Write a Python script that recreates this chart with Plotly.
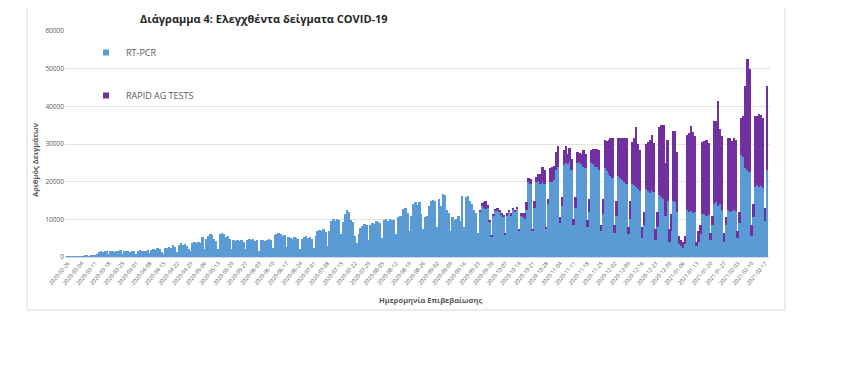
import pandas as pd
import plotly.graph_objects as go

# ---- data (daily samples) ----
start_date = "2020-02-26"
rt_pcr = [
    30, 40, 60, 80, 90, 100, 120,
    150, 250, 600, 300, 250, 300, 350,
    400, 900, 1400, 1500, 1300, 1700, 1600,
    900, 1500, 1600, 1400, 1700, 1500, 1800,
    800, 1600, 1500, 1700, 1400, 1600, 1500,
    900, 1700, 1800, 1600, 1500, 1700, 1900,
    1000, 1900, 2200, 1800, 2400, 2100, 1300,
    700, 2300, 2500, 2700, 2400, 3100, 2600,
    1200, 3100, 3600, 3300, 3400, 3000, 2200,
    1500, 3700, 3900, 3600, 4000, 3800, 5200,
    2000, 4800, 5500, 6100, 5800, 4900, 4200,
    2200, 6000, 6400, 6200, 5300, 5600, 4800,
    2000, 4500, 4300, 4600, 4200, 4400, 3900,
    2100, 4600, 4800, 4500, 4700, 4300, 4600,
    1700, 4500, 4600, 4300, 4500, 4700, 4400,
    2500, 5800, 6100, 6300, 6000, 5700, 5900,
    2600, 5200, 5000, 4800, 5300, 5100, 4700,
    2200, 4900, 5200, 5600, 5000, 5300, 4800,
    2400, 5500, 6800, 7200, 6900, 7400, 6600,
    3000, 7000, 9600, 10100, 9500, 10200, 9800,
    6000, 9200, 11500, 12500, 12000, 9800, 9200,
    5500, 3800, 6200, 7600, 8200, 8800, 8400,
    4500, 8600, 9000, 8700, 9600, 9200, 8900,
    5000, 9800, 10200, 9600, 10000, 9700, 9900,
    6000, 10500, 11000, 10800, 12700, 13000, 11800,
    7000, 11000, 14000, 14500, 13800, 14600, 11500,
    7500, 10500, 11000, 13500, 15000, 15200, 14800,
    8000, 15500, 13600, 16700, 16400, 12500, 11800,
    7000, 10500, 9800, 10200, 11000, 9600, 16300,
    8000, 15800, 16300, 15000, 14200, 12500, 11800,
    6500, 12000, 13500, 13000, 12800, 13200, 9500,
    5500, 11000, 12300, 12700, 12000, 11200, 10800,
    6000, 11000, 12000, 11000, 12600, 12000, 13000,
    7000, 11000, 10500, 10200, 12500, 19800, 19500,
    7000, 13000, 19800, 20200, 19500, 19800, 19300,
    7500, 14000, 20000, 19800, 20500, 23000, 24000,
    9000, 13500, 24500, 25000, 24800, 25500, 23000,
    8500, 13000, 25000, 25200, 24600, 24000, 23500,
    8000, 12000, 25000, 24800, 24000, 23800, 23200,
    7000, 11500, 23500, 22800, 22000, 21500, 21000,
    6500, 11000, 21500, 21000, 20500, 20000, 19500,
    6000, 10000, 19500, 19000, 18500, 18000, 17500,
    5000, 8500, 18000, 17500, 17000, 17800, 17200,
    4500, 8000, 16500, 16000, 15500, 11000, 15000,
    4000, 7000, 15000, 14500, 12000, 3500, 3000,
    2500, 3500, 12500, 12000, 12300, 11800, 12000,
    3000, 4000, 6000, 11500, 11400, 11000, 11200,
    4500, 8500, 14000, 14500, 13500, 14000, 12500,
    4000, 8500, 12500, 12000, 12300, 12500, 12200,
    5000, 9000, 27000, 26500, 23500, 23000, 22500,
    5500, 10500, 18500, 19000, 18500, 18800, 18200,
    9500, 23000,
]

rapid_start_date = "2020-09-23"
rapid_ag = [
    0, 300, 800, 1500, 2200, 500, 200,
    200, 400, 300, 300, 400, 300, 200,
    300, 600, 400, 700, 500, 600, 300,
    300, 800, 1200, 1500, 2000, 1200, 1300,
    400, 2000, 1500, 1800, 2500, 4000, 3800,
    500, 1500, 3500, 4000, 3600, 5000, 5500,
    1500, 2500, 3800, 4500, 2500, 3500, 3000,
    1500, 3000, 3000, 2500, 2800, 4500, 3800,
    1800, 3500, 3500, 4000, 4800, 5000, 5200,
    1500, 3800, 7500, 8000, 9000, 10000, 10500,
    2000, 4000, 10000, 10500, 11000, 11500, 12000,
    2000, 5000, 11000, 12500, 16000, 12000, 11000,
    3000, 3500, 12000, 13000, 14000, 14500, 13000,
    3000, 4000, 18000, 19000, 19500, 14000, 16000,
    3500, 4500, 18500, 19000, 16000, 2000, 1500,
    1500, 2000, 20000, 21000, 22500, 21500, 20000,
    1000, 3000, 2500, 19000, 19500, 20000, 19000,
    2000, 2500, 22000, 21500, 28000, 20000, 19500,
    2500, 2000, 19000, 19500, 18500, 19000, 18800,
    2000, 3000, 10000, 11000, 22000, 29700, 27500,
    3000, 3500, 19000, 18500, 19500, 19000, 18800,
    3500, 22500,
]

y_ticks = [0, 10000, 20000, 30000, 40000, 50000, 60000]

title_text = "Διάγραμμα 4: Ελεγχθέντα δείγματα COVID-19"
y_title = "Αριθμός Δειγμάτων"
x_title = "Ημερομηνία Επιβεβαίωσης"
name_pcr = "RT-PCR"
name_rapid = "RAPID AG TESTS"

dates_pcr = pd.date_range(start_date, periods=len(rt_pcr))
dates_rapid = pd.date_range(rapid_start_date, periods=len(rapid_ag))

BLUE = "#5B9BD5"
PURPLE = "#7030A0"
GREY = "#595959"

fig = go.Figure()
fig.add_trace(go.Bar(x=dates_pcr, y=rt_pcr, name=name_pcr, showlegend=False,
                     marker=dict(color=BLUE, line=dict(width=0))))
fig.add_trace(go.Bar(x=dates_rapid, y=rapid_ag, name=name_rapid, showlegend=False,
                     marker=dict(color=PURPLE, line=dict(width=0))))
# legend entries (small square keys)
fig.add_trace(go.Scatter(x=[None], y=[None], mode="markers", name=name_pcr,
                         legendgroup="a",
                         marker=dict(symbol="square", size=6, color=BLUE)))
fig.add_trace(go.Scatter(x=[None], y=[None], mode="markers", name=name_rapid,
                         legendgroup="b",
                         marker=dict(symbol="square", size=6, color=PURPLE)))

# page is offset by the 8px body margin: figure px = page px - 8
OFF = 8
W, H = 850 - 2 * OFF, 371 - 2 * OFF
plot_left, plot_right, plot_top, plot_bottom = 65 - OFF, 770 - OFF, 31 - OFF, 257 - OFF
L, R, T, B = plot_left, W - plot_right, plot_top, H - plot_bottom
pw, ph = plot_right - plot_left, plot_bottom - plot_top

def px_x(px):
    return (px - OFF - plot_left) / pw

def px_y(py):
    return (plot_bottom - (py - OFF)) / ph

fig.update_layout(
    width=W, height=H,
    margin=dict(l=L, r=R, t=T, b=B),
    paper_bgcolor="white", plot_bgcolor="white",
    barmode="stack", bargap=0,
    font=dict(family="Open Sans, Liberation Sans, sans-serif", color=GREY),
    showlegend=True,
    legend=dict(x=px_x(86), y=px_y(38), xanchor="left", yanchor="top",
                traceorder="grouped", tracegroupgap=24,
                font=dict(size=9, color=GREY), bgcolor="rgba(0,0,0,0)",
                itemwidth=30),
    xaxis=dict(
        type="date",
        range=["2020-02-24 12:00", "2021-02-19 10:00"],
        tick0=start_date, dtick=7 * 86400000, tickformat="%Y-%m-%d",
        tickangle=-50, tickfont=dict(size=5.5, color=GREY),
        showgrid=False, showline=True, linecolor="#D9D9D9", linewidth=1,
        ticks="", zeroline=False,
    ),
    yaxis=dict(
        range=[0, 60000], tickvals=y_ticks, tickformat="d",
        tickfont=dict(size=6.5, color=GREY),
        showgrid=True, gridcolor="#E3E3E3", gridwidth=1,
        zeroline=False, showline=False, ticks="",
    ),
    shapes=[dict(type="rect", xref="paper", yref="paper",
                 x0=px_x(27), x1=px_x(785), y0=px_y(310), y1=px_y(5),
                 line=dict(color="#D9D9D9", width=1), fillcolor="rgba(0,0,0,0)",
                 layer="below")],
    annotations=[
        dict(text=f"<b>{title_text}</b>", xref="paper", yref="paper",
             x=px_x(264), y=px_y(18), xanchor="center", yanchor="middle",
             showarrow=False, font=dict(size=11, color="#262626")),
        dict(text=f"<b>{y_title}</b>", xref="paper", yref="paper",
             x=px_x(35), y=px_y(160), xanchor="center", yanchor="middle",
             textangle=-90, showarrow=False, font=dict(size=7.5, color=GREY)),
        dict(text=f"<b>{x_title}</b>", xref="paper", yref="paper",
             x=px_x(430), y=px_y(300), xanchor="center", yanchor="middle",
             showarrow=False, font=dict(size=7.5, color=GREY)),
    ],
)

fig.write_html("out.html")
